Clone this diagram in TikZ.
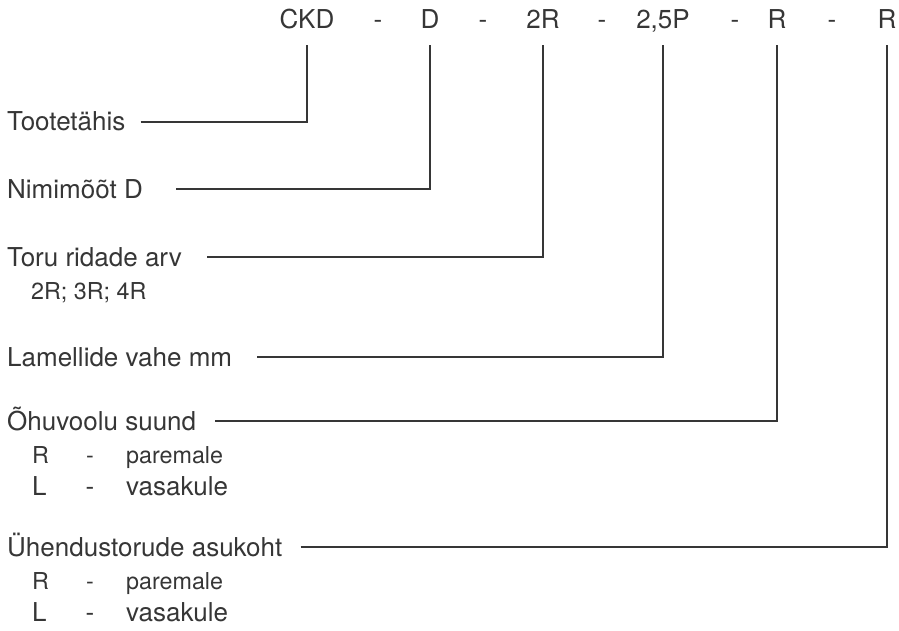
\documentclass[tikz,border=0pt]{standalone}
\usepackage{fontspec}
\setmainfont{TeX Gyre Heros}
\usepackage{xcolor}
\usetikzlibrary{positioning}
\definecolor{ink}{HTML}{363636}

\begin{document}
\begin{tikzpicture}[
    x=1pt, y=-1pt,
    font=\fontsize{26}{30}\selectfont,
    text=ink,
    code/.style={
        inner sep=0pt,
        anchor=base,
        text depth=0pt
    },
    term/.style={
        inner sep=0pt,
        anchor=base west,
        text height=18.7pt,
        text depth=0pt
    },
    hint/.style={
        inner sep=0pt,
        anchor=base west,
        font=\fontsize{23.3}{28}\selectfont
    },
    rdash/.style={
        inner sep=0pt,
        anchor=base,
        font=\fontsize{23.3}{28}\selectfont
    },
    ldash/.style={
        inner sep=0pt,
        anchor=base
    },
    leader/.style={
        draw=ink,
        line width=1.8pt,
        shorten >=16pt
    }
]
\useasboundingbox (0,0) rectangle (899,631);

% Designation code
\node[code] (ckd)  at (307,29) {CKD};
\node[code] (sep1) at (378,29) {-};
\node[code] (dim)  at (430,29) {D};
\node[code] (sep2) at (483,29) {-};
\node[code] (rows) at (543,29) {2R};
\node[code] (sep3) at (602,29) {-};
\node[code] (fins) at (663,29) {2,5P};
\node[code] (sep4) at (735,29) {-};
\node[code] (flow) at (777,29) {R};
\node[code] (sep5) at (832,29) {-};
\node[code] (pipe) at (887,29) {R};

% Explanations
\node[term] (prod) at (7,131) {Tootetähis};
\node[term] (size) at (7,198) {Nimimõõt D};
\node[term] (tube) at (7,266) {Toru ridade arv};
\node[hint] (tubeopt) at (31,299) {2R; 3R; 4R};
\node[term] (pitch) at (7,366) {Lamellide vahe mm};

\node[term] (air) at (7,430) {Õhuvoolu suund};
\node[hint] (airR) at (32,463) {R};
\node[rdash] (airRs) at (90,463) {-};
\node[hint] (airRt) at (126,463) {paremale};
\node[term] (airL) at (32,495) {L};
\node[ldash] (airLs) at (90,495) {-};
\node[term] (airLt) at (126,495) {vasakule};

\node[term] (conn) at (7,556) {Ühendustorude asukoht};
\node[hint] (connR) at (32,589) {R};
\node[rdash] (connRs) at (90,589) {-};
\node[hint] (connRt) at (126,589) {paremale};
\node[term] (connL) at (32,621) {L};
\node[ldash] (connLs) at (90,621) {-};
\node[term] (connLt) at (126,621) {vasakule};

% Leaders
\draw[leader] ([xshift=15pt]prod.east) -| (ckd.south);
\draw[leader] ([xshift=33pt]size.east) -| (dim.south);
\draw[leader] ([xshift=25pt]tube.east) -| (rows.south);
\draw[leader] ([xshift=25pt]pitch.east) -| (fins.south);
\draw[leader] ([xshift=19pt]air.east) -| (flow.south);
\draw[leader] ([xshift=18pt]conn.east) -| (pipe.south);

\end{tikzpicture}
\end{document}
